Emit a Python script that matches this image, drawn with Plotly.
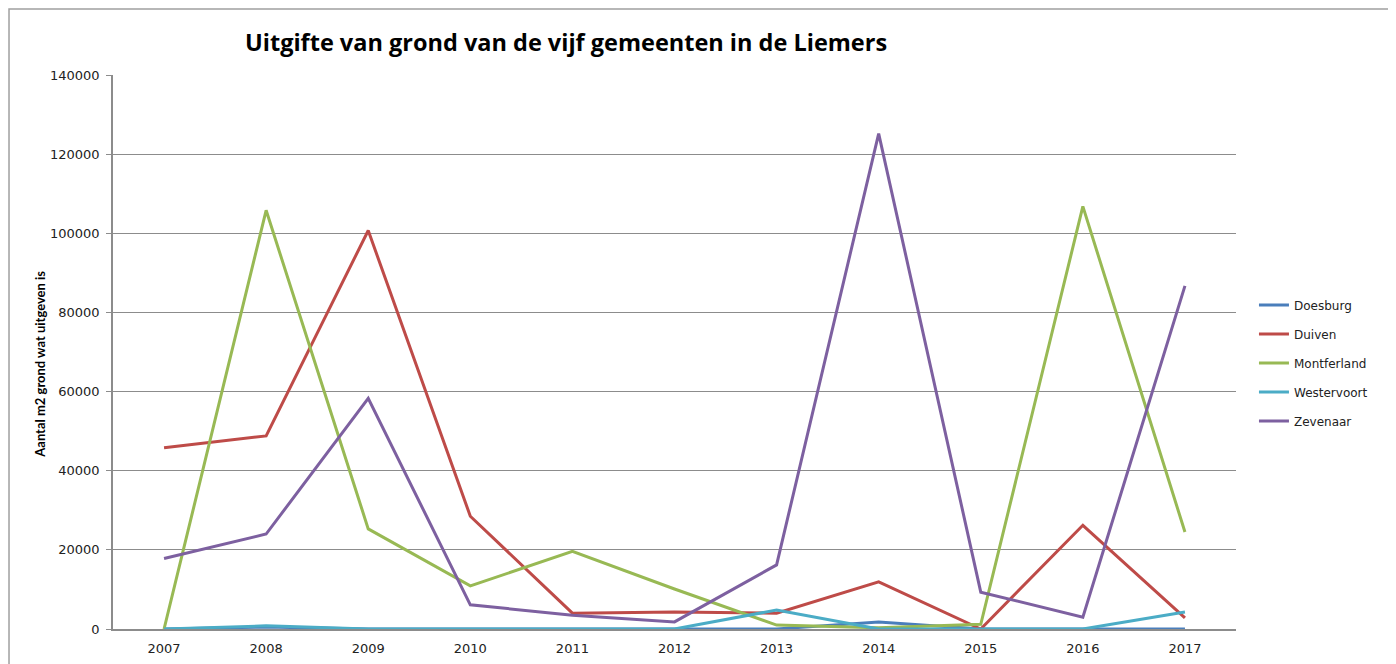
import plotly.graph_objects as go

# Jaren en uitgegeven grond (m2) per gemeente
jaren = ["2007", "2008", "2009", "2010", "2011", "2012", "2013", "2014", "2015", "2016", "2017"]

doesburg = [0, 500, 0, 0, 0, 0, 0, 1800, 0, 0, 0]
duiven = [45800, 48800, 100700, 28500, 4000, 4300, 4000, 11900, 0, 26200, 2800]
montferland = [0, 105800, 25300, 10900, 19600, 10100, 1000, 300, 1200, 106800, 24500]
westervoort = [0, 800, 0, 0, 0, 0, 4800, 0, 0, 0, 4300]
zevenaar = [17800, 24000, 58300, 6100, 3500, 1800, 16200, 125200, 9300, 3000, 86700]

namen = ["Doesburg", "Duiven", "Montferland", "Westervoort", "Zevenaar"]
reeksen = [doesburg, duiven, montferland, westervoort, zevenaar]
kleuren = ["#4A7EBB", "#BE4B48", "#98B954", "#4BACC6", "#7D60A0"]

y_ticks = [0, 20000, 40000, 60000, 80000, 100000, 120000, 140000]

fig = go.Figure()

for naam, waarden, kleur in zip(namen, reeksen, kleuren):
    fig.add_trace(go.Scatter(
        x=jaren,
        y=waarden,
        mode="lines",
        name=naam,
        legendgroup=naam,
        line=dict(color=kleur, width=3),
    ))

# the page adds an 8px body margin, so margins are 8px smaller
fig.update_layout(
    width=1396,
    height=664,
    paper_bgcolor="white",
    plot_bgcolor="white",
    margin=dict(l=105, r=168, t=67, b=43),
    font=dict(family="DejaVu Sans", size=13, color="#222222"),
    xaxis=dict(
        type="category",
        range=[-0.5, 10.5],
        showgrid=False,
        showline=True,
        linecolor="#8c8c8c",
        linewidth=1.5,
        ticks="",
        ticklabelstandoff=7,
        tickfont=dict(family="DejaVu Sans", size=13, color="#222222"),
    ),
    yaxis=dict(
        range=[0, 140000],
        tickvals=y_ticks,
        ticktext=[str(v) for v in y_ticks],
        showgrid=True,
        gridcolor="#8c8c8c",
        gridwidth=1,
        showline=True,
        linecolor="#8c8c8c",
        linewidth=1.5,
        ticks="outside",
        ticklen=5,
        tickcolor="#8c8c8c",
        zeroline=False,
        ticklabelstandoff=4,
        tickfont=dict(family="DejaVu Sans", size=13, color="#222222"),
    ),
    legend=dict(
        x=1.016,
        y=0.48,
        xanchor="left",
        yanchor="middle",
        traceorder="grouped",
        tracegroupgap=10,
        font=dict(family="DejaVu Sans", size=12, color="#222222"),
        bgcolor="rgba(0,0,0,0)",
    ),
    showlegend=True,
)

fig.add_annotation(
    text="<b>Uitgifte van grond van de vijf gemeenten in de Liemers</b>",
    xref="paper", yref="paper",
    x=0.403, y=1.06,
    xanchor="center", yanchor="middle",
    showarrow=False,
    font=dict(family="Open Sans", size=23.5, color="#000000"),
)

fig.add_annotation(
    text="<b>Aantal m2 grond wat uitgeven is</b>",
    xref="paper", yref="paper",
    x=-0.065, y=0.477,
    xanchor="center", yanchor="middle",
    textangle=-90,
    showarrow=False,
    font=dict(family="Lato", size=13, color="#000000"),
)

# kader rond de grafiek
fig.add_shape(
    type="rect",
    xref="paper", yref="paper",
    x0=-0.0926, x1=1.138, y0=-0.09, y1=1.119,
    line=dict(color="#a0a0a0", width=1.5),
    layer="below",
)

fig.write_html("out.html")
